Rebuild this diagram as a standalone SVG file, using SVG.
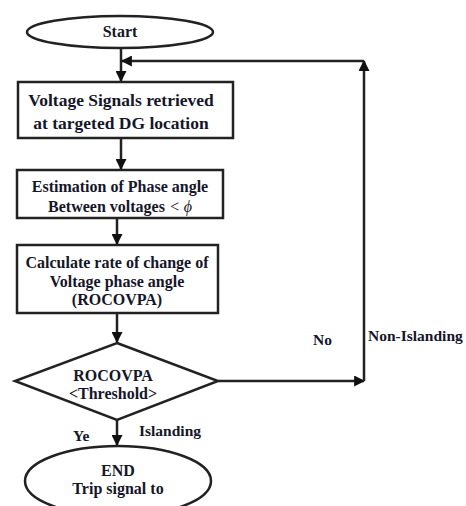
<svg xmlns="http://www.w3.org/2000/svg" width="466" height="506" viewBox="0 0 466 506">
<defs>
<style>
.shape{fill:#fff;stroke:#222;stroke-width:2.5}
.t{font-family:'Liberation Serif',serif;font-weight:700;font-size:16px;fill:#16162a;text-anchor:middle}
.big{font-size:17.5px}
.l{font-family:'Liberation Serif',serif;font-weight:700;font-size:15.5px;fill:#16162a}
.c{fill:none;stroke:#222;stroke-width:2.5}
</style>
<marker id="ah" viewBox="0 0 10 10" refX="9" refY="5" markerWidth="4.4" markerHeight="4.4" orient="auto" markerUnits="strokeWidth">
<path d="M0,0 L10,5 L0,10 z" fill="#111"/>
</marker>
</defs>
<rect width="466" height="506" fill="#fff"/>
<g id="connectors">
<line class="c" x1="121" y1="48" x2="121" y2="81" marker-end="url(#ah)"/>
<line class="c" x1="121" y1="138" x2="121" y2="169" marker-end="url(#ah)"/>
<line class="c" x1="117" y1="219" x2="117" y2="244" marker-end="url(#ah)"/>
<line class="c" x1="117" y1="314" x2="117" y2="342" marker-end="url(#ah)"/>
<line class="c" x1="218" y1="381" x2="364" y2="381" marker-end="url(#ah)"/>
<line class="c" x1="364" y1="381" x2="364" y2="61" marker-end="url(#ah)"/>
<line class="c" x1="364" y1="61" x2="122" y2="61" marker-end="url(#ah)"/>
<line class="c" x1="117" y1="420" x2="117" y2="445" marker-end="url(#ah)"/>
<text class="l" x="313" y="345">No</text>
<text class="l" x="368" y="341">Non-Islanding</text>
<text class="l" x="73" y="441">Ye</text>
<text class="l" x="139" y="436">Islanding</text>
</g>
<g id="start">
<ellipse class="shape" cx="120" cy="32" rx="93" ry="16"/>
<text class="t" x="120" y="37">Start</text>
</g>
<g id="retrieve">
<rect class="shape" x="18" y="82" width="215" height="56"/>
<text class="t big" x="121" y="106">Voltage Signals retrieved</text>
<text class="t big" x="121" y="129">at targeted DG location</text>
</g>
<g id="estimate">
<rect class="shape" x="17" y="170" width="206" height="48"/>
<text class="t" x="120" y="192">Estimation of Phase angle</text>
<text class="t" x="120" y="212">Between voltages <tspan font-style="italic" font-weight="normal">&lt; ϕ</tspan></text>
</g>
<g id="calculate">
<rect class="shape" x="17" y="245" width="201" height="68"/>
<text class="t" x="117" y="268">Calculate rate of change of</text>
<text class="t" x="117" y="287">Voltage phase angle</text>
<text class="t" x="117" y="305">(ROCOVPA)</text>
</g>
<g id="decision">
<polygon class="shape" points="117,343 218,381 117,420 15,381"/>
<text class="t" x="113" y="381">ROCOVPA</text>
<text class="t" x="113" y="399">&lt;Threshold&gt;</text>
</g>
<g id="end">
<ellipse class="shape" cx="118" cy="481" rx="93" ry="35"/>
<text class="t" x="118" y="476">END</text>
<text class="t" x="118" y="494">Trip signal to</text>
</g>
</svg>
